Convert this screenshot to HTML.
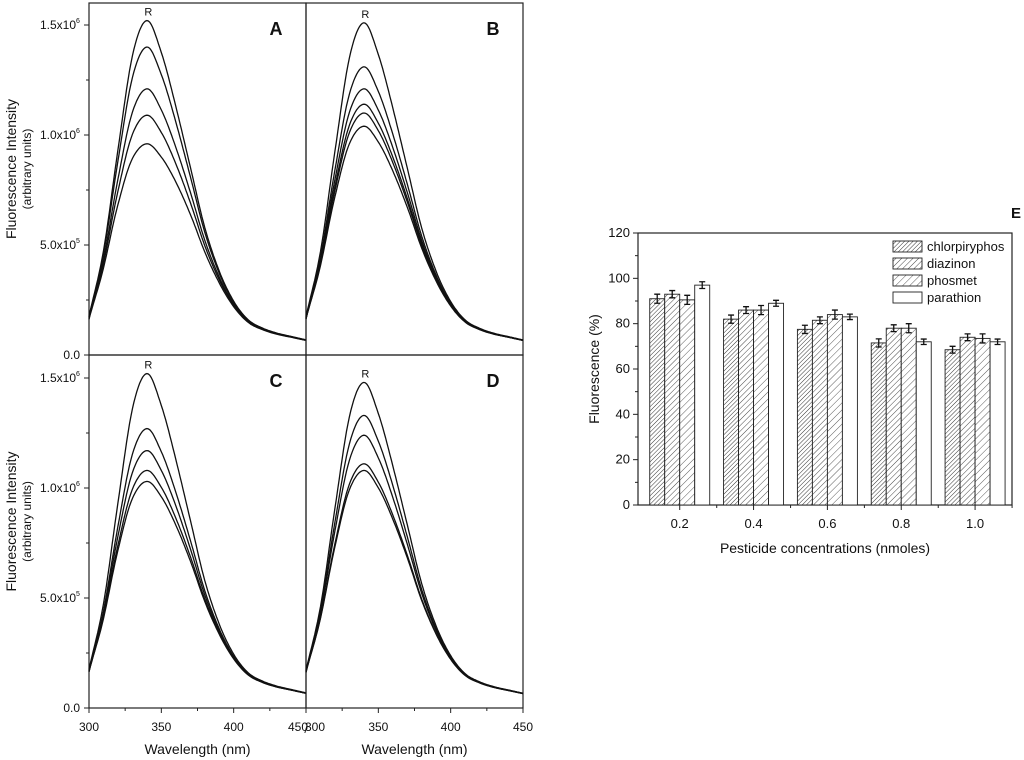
<!DOCTYPE html>
<html><head><meta charset="utf-8"><style>
body{margin:0;background:#fff;font-family:"Liberation Sans",sans-serif}
svg{display:block}
text{font-family:"Liberation Sans",sans-serif;fill:#111}
</style></head><body>
<svg id="fig" width="1024" height="760" viewBox="0 0 1024 760" xmlns="http://www.w3.org/2000/svg">
<defs>
<pattern id="h1" patternUnits="userSpaceOnUse" width="3" height="3" patternTransform="rotate(45)"><rect width="3" height="3" fill="#fff"/><line x1="0" y1="0" x2="0" y2="3" stroke="#333" stroke-width="1"/></pattern>
<pattern id="h2" patternUnits="userSpaceOnUse" width="4" height="4" patternTransform="rotate(45)"><rect width="4" height="4" fill="#fff"/><line x1="0" y1="0" x2="0" y2="4" stroke="#333" stroke-width="0.9"/></pattern>
<pattern id="h3" patternUnits="userSpaceOnUse" width="5" height="5" patternTransform="rotate(45)"><rect width="5" height="5" fill="#fff"/><line x1="0" y1="0" x2="0" y2="5" stroke="#333" stroke-width="0.8"/></pattern>
</defs>
<g id="spectra"></g>
<g id="bars"></g>
</svg>
<script>
// ---- spectra data ----
const wavelengths=[300,310,320,330,340,350,360,370,380,390,400,410,420,430,440,450];
const profile=[0.115,0.31,0.61,0.89,0.995,0.9,0.74,0.56,0.38,0.25,0.16,0.105,0.08,0.065,0.055,0.045];
const peaksA=[1.52e6,1.40e6,1.21e6,1.09e6,0.96e6];
const peaksB=[1.51e6,1.31e6,1.21e6,1.14e6,1.10e6,1.04e6];
const peaksC=[1.52e6,1.27e6,1.17e6,1.08e6,1.03e6];
const peaksD=[1.48e6,1.33e6,1.24e6,1.11e6,1.08e6];
const xTicks=[300,350,400,450];
const yTickLabels=["0.0","5.0x10","1.0x10","1.5x10"];
const yTickExp=["","5","6","6"];
// ---- bar data ----
const concs=["0.2","0.4","0.6","0.8","1.0"];
const chlor=[91,82,77.5,71.5,68.5];
const diaz=[93,86,81.5,78,74];
const phos=[90.5,86,84,78,73.5];
const para=[97,89,83,72,72];
const chlorErr=[2,1.8,1.8,1.8,1.5];
const diazErr=[1.6,1.5,1.5,1.5,1.5];
const phosErr=[2,2,2,2,2];
const paraErr=[1.5,1.3,1.2,1.2,1.2];
const seriesNames=["chlorpiryphos","diazinon","phosmet","parathion"];
const barTicks=[0,20,40,60,80,100,120];

const NS="http://www.w3.org/2000/svg";
function mk(tag,attrs,parent,txt){const e=document.createElementNS(NS,tag);for(const k in attrs)e.setAttribute(k,attrs[k]);if(txt!==undefined)e.textContent=txt;parent.appendChild(e);return e;}
const sp=document.getElementById('spectra');
const panels=[
 {id:'A',peaks:peaksA,x0:89,x1:306,y0:3,y1:355,left:true,bottom:false},
 {id:'B',peaks:peaksB,x0:306,x1:523,y0:3,y1:355,left:false,bottom:false},
 {id:'C',peaks:peaksC,x0:89,x1:306,y0:355,y1:708,left:true,bottom:true},
 {id:'D',peaks:peaksD,x0:306,x1:523,y0:355,y1:708,left:false,bottom:true}];
function prof(w){
 let k=0;while(k<wavelengths.length-2&&wavelengths[k+1]<w)k++;
 const t=(w-wavelengths[k])/(wavelengths[k+1]-wavelengths[k]);
 const P=j=>{if(j<0)return 2*profile[0]-profile[1];if(j>=profile.length)return 2*profile[profile.length-1]-profile[profile.length-2];return profile[j];};
 const p0=P(k-1),p1=P(k),p2=P(k+1),p3=P(k+2);
 return 0.5*((2*p1)+(-p0+p2)*t+(2*p0-5*p1+4*p2-p3)*t*t+(-p0+3*p1-3*p2+p3)*t*t*t);
}
panels.forEach(p=>{
 const g=mk('g',{},sp);
 
 
 const xs=v=>p.x0+(v-300)/150*(p.x1-p.x0);
 const zero=p.y1, pxPer=110/5e5;
 const ys=v=>zero-v*pxPer;
 const fr=mk('rect',{x:p.x0,y:p.y0,width:p.x1-p.x0,height:p.y1-p.y0,fill:'none',stroke:'#222','stroke-width':1.2},g);
 
 const top=Math.max(...p.peaks);
 const pmax=Math.max(...profile);
 p.peaks.forEach((pk,i)=>{
  let d='';
  for(let w=300;w<=450;w+=1){
   const pr=Math.max(prof(w)/pmax,0.001);
   const v=top*pr*Math.pow(pk/top,Math.pow(pr,0.8));
   d+=(w===300?'M':'L')+xs(w).toFixed(1)+','+ys(v).toFixed(1);
  }
  const c=mk('path',{d:d,fill:'none',stroke:'#111','stroke-width':1.3},g);
  
 });
 const r=mk('text',{x:xs(341),y:ys(top)-5,'font-size':11,'text-anchor':'middle'},g,'R');
 
 const pl=mk('text',{x:p.x1-30,y:p.y0+32,'font-size':18,'font-weight':'bold','text-anchor':'middle'},g,p.id);
 
 if(p.left){
  for(let i=0;i<=6;i++){const v=i*2.5e5;const y=ys(v);if(y<p.y0)continue;
   mk('line',{x1:p.x0-(i%2?3:5),x2:p.x0,y1:y,y2:y,stroke:'#222'},g);}
  yTickLabels.forEach((lb,i)=>{const y=ys(i*5e5);
   const t=mk('text',{x:p.x0-9,y:y+4,'font-size':12,'text-anchor':'end'},g);
   
   t.textContent=lb;
   if(yTickExp[i]){t.setAttribute('x',p.x0-13);const s=mk('text',{x:p.x0-13,y:y-2,'font-size':7},g,yTickExp[i]);
    }
  });
  const cy=(p.y0+p.y1)/2-10;
  const t1=mk('text',{x:16,y:cy,'font-size':14,'text-anchor':'middle',transform:`rotate(-90 16 ${cy})`},g,'Fluorescence Intensity');
  
  const t2=mk('text',{x:31,y:cy,'font-size':12,'text-anchor':'middle',transform:`rotate(-90 31 ${cy})`},g,'(arbitrary units)');
  
 }
 if(p.bottom){
  for(let w=300;w<=450;w+=25){mk('line',{x1:xs(w),x2:xs(w),y1:p.y1,y2:p.y1+(w%50?3:5),stroke:'#222'},g);}
  xTicks.forEach((w,i)=>{
   let lx=xs(w);if(w===450&&p.left)lx-=8;if(w===300&&!p.left)lx+=9;
   const t=mk('text',{x:lx,y:p.y1+23,'font-size':12,'text-anchor':'middle'},g,String(w));
   });
  const xt=mk('text',{x:(p.x0+p.x1)/2,y:p.y1+46,'font-size':14,'text-anchor':'middle'},g,'Wavelength (nm)');
  
 }
});
const sl=mk('text',{x:306,y:733,'font-size':12,'text-anchor':'middle'},sp,'/');


// ---- bar chart ----
const bg=document.getElementById('bars');


const bx0=638,bx1=1012,by0=505,by1=233;
const bxs=v=>bx0+(v-0.087)/(1.1-0.087)*(bx1-bx0);
const bys=v=>by0-v/120*(by0-by1);
const fr=mk('rect',{x:bx0,y:by1,width:bx1-bx0,height:by0-by1,fill:'none',stroke:'#222','stroke-width':1.2},bg);

barTicks.forEach(v=>{mk('line',{x1:bx0-5,x2:bx0,y1:bys(v),y2:bys(v),stroke:'#222'},bg);
 if(v<120)mk('line',{x1:bx0-3,x2:bx0,y1:bys(v+10),y2:bys(v+10),stroke:'#222'},bg);
 const t=mk('text',{x:bx0-8,y:bys(v)+4,'font-size':13,'text-anchor':'end'},bg,String(v));
 });
const allS=[chlor,diaz,phos,para],allE=[chlorErr,diazErr,phosErr,paraErr],fills=['url(#h1)','url(#h2)','url(#h3)','#fff'];
const bw=15;
concs.forEach((c,i)=>{
 const cx=bxs(parseFloat(c));
 mk('line',{x1:cx,x2:cx,y1:by0,y2:by0+5,stroke:'#222'},bg);
 mk('line',{x1:cx+37,x2:cx+37,y1:by0,y2:by0+3,stroke:'#222'},bg);
 const t=mk('text',{x:cx,y:by0+23,'font-size':13,'text-anchor':'middle'},bg,c);
 
 allS.forEach((s,j)=>{
  const x=cx-2*bw+j*bw;
  const b=mk('rect',{x:x,y:bys(s[i]),width:bw,height:by0-bys(s[i]),fill:fills[j],stroke:'#222','stroke-width':0.9},bg);
  
  const m=x+bw/2,e=allE[j][i];
  const eb=mk('path',{d:`M${m},${bys(s[i]+e)}V${bys(s[i]-e)}M${m-3},${bys(s[i]+e)}H${m+3}M${m-3},${bys(s[i]-e)}H${m+3}`,stroke:'#111','stroke-width':1.3,fill:'none'},bg);
  
 });
});
seriesNames.forEach((n,j)=>{
 const y=241+j*17;
 const sw=mk('rect',{x:893,y:y,width:29,height:11,fill:fills[j],stroke:'#222','stroke-width':0.9},bg);
 
 const t=mk('text',{x:927,y:y+10,'font-size':13},bg,n);
 });
const yt=mk('text',{x:599,y:369,'font-size':14,'text-anchor':'middle',transform:'rotate(-90 599 369)'},bg,'Fluorescence (%)');

const xt=mk('text',{x:825,y:553,'font-size':14,'text-anchor':'middle'},bg,'Pesticide concentrations (nmoles)');

const el=mk('text',{x:1016,y:218,'font-size':15,'font-weight':'bold','text-anchor':'middle'},bg,'E');

</script>
</body></html>
